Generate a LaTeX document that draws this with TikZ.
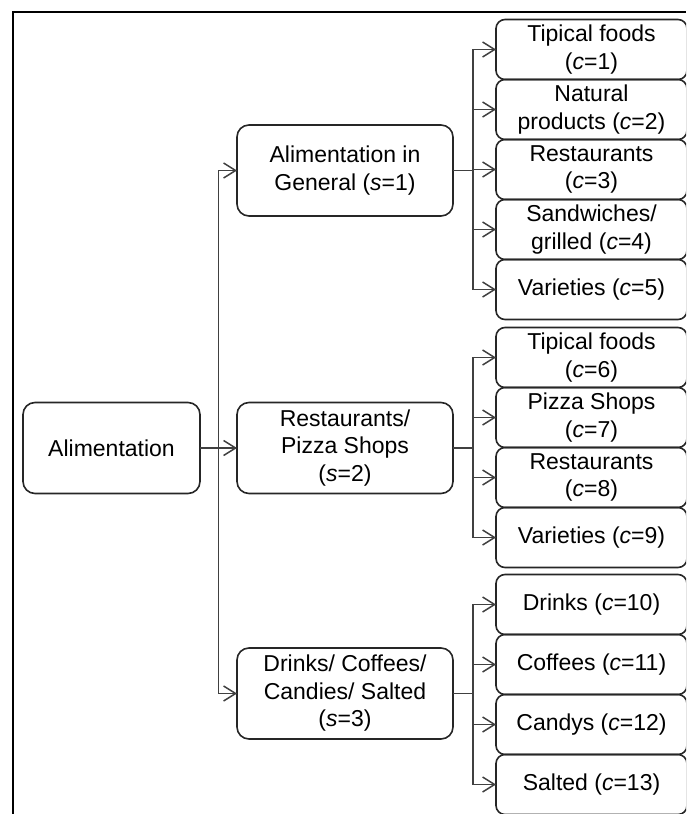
\documentclass[tikz,border=0pt]{standalone}
\usepackage{fontspec}
\setmainfont{Liberation Sans}
\usetikzlibrary{positioning,arrows.meta}

\tikzset{
  box/.style={draw=black!85, line width=1.6pt, align=center, inner sep=2pt,
    outer sep=0pt, font=\fontsize{23}{27.5}\selectfont},
  rootbox/.style={box, rounded corners=12pt, minimum width=177pt, minimum height=91pt},
  groupbox/.style={box, rounded corners=12pt, minimum width=216pt, minimum height=91pt},
  catbox/.style={box, rounded corners=9pt, minimum width=191pt, minimum height=60pt},
  link/.style={draw=black!75, line width=1.6pt},
  arr/.style={link, -{Straight Barb[length=12pt,width=15pt,line width=1.5pt]}}
}

\begin{document}
\begin{tikzpicture}[x=1pt, y=-1pt]
  \useasboundingbox (0,0) rectangle (686,814);
  \clip (0,0) rectangle (686,814);
  % outer frame
  \draw[line width=2.5pt] (13,814) -- (13,12) -- (686,12);

  \node[rootbox] (alim) at (111.5,448) {Alimentation};

  \node[groupbox] (s1) at (345,170.5) {Alimentation in\\General (\textit{s}=1)};
  \node[groupbox] (s2) at (345,448) {Restaurants/\\Pizza Shops\\(\textit{s}=2)};
  \node[groupbox] (s3) at (345,693.5) {Drinks/ Coffees/\\Candies/ Salted\\(\textit{s}=3)};

  \node[catbox] (c1) at (591.5,49.5) {Tipical foods\\(\textit{c}=1)};
  \node[catbox, below=0pt of c1] (c2) {Natural\\products (\textit{c}=2)};
  \node[catbox, below=0pt of c2] (c3) {Restaurants\\(\textit{c}=3)};
  \node[catbox, below=0pt of c3] (c4) {Sandwiches/\\grilled (\textit{c}=4)};
  \node[catbox, below=0pt of c4] (c5) {Varieties (\textit{c}=5)};

  \node[catbox] (c6) at (591.5,357.5) {Tipical foods\\(\textit{c}=6)};
  \node[catbox, below=0pt of c6] (c7) {Pizza Shops\\(\textit{c}=7)};
  \node[catbox, below=0pt of c7] (c8) {Restaurants\\(\textit{c}=8)};
  \node[catbox, below=0pt of c8] (c9) {Varieties (\textit{c}=9)};

  \node[catbox] (c10) at (591.5,604.5) {Drinks (\textit{c}=10)};
  \node[catbox, below=0pt of c10] (c11) {Coffees (\textit{c}=11)};
  \node[catbox, below=0pt of c11] (c12) {Candys (\textit{c}=12)};
  \node[catbox, below=0pt of c12] (c13) {Salted (\textit{c}=13)};

  % connectors
  \coordinate (trunk) at (218.5,448);
  \draw[arr] (alim) -- (s2);
  \draw[arr] (trunk) |- (s1);
  \draw[arr] (trunk) |- (s3);

  \coordinate (b1) at (473,170.5);
  \coordinate (b2) at (473,448);
  \coordinate (b3) at (473,693.5);
  \draw[link] (s1) -- (b1);
  \draw[link] (s2) -- (b2);
  \draw[link] (s3) -- (b3);
  \foreach \c in {c1,c2,c3,c4,c5} \draw[arr] (b1) |- (\c);
  \foreach \c in {c6,c7,c8,c9} \draw[arr] (b2) |- (\c);
  \foreach \c in {c10,c11,c12,c13} \draw[arr] (b3) |- (\c);
\end{tikzpicture}
\end{document}
